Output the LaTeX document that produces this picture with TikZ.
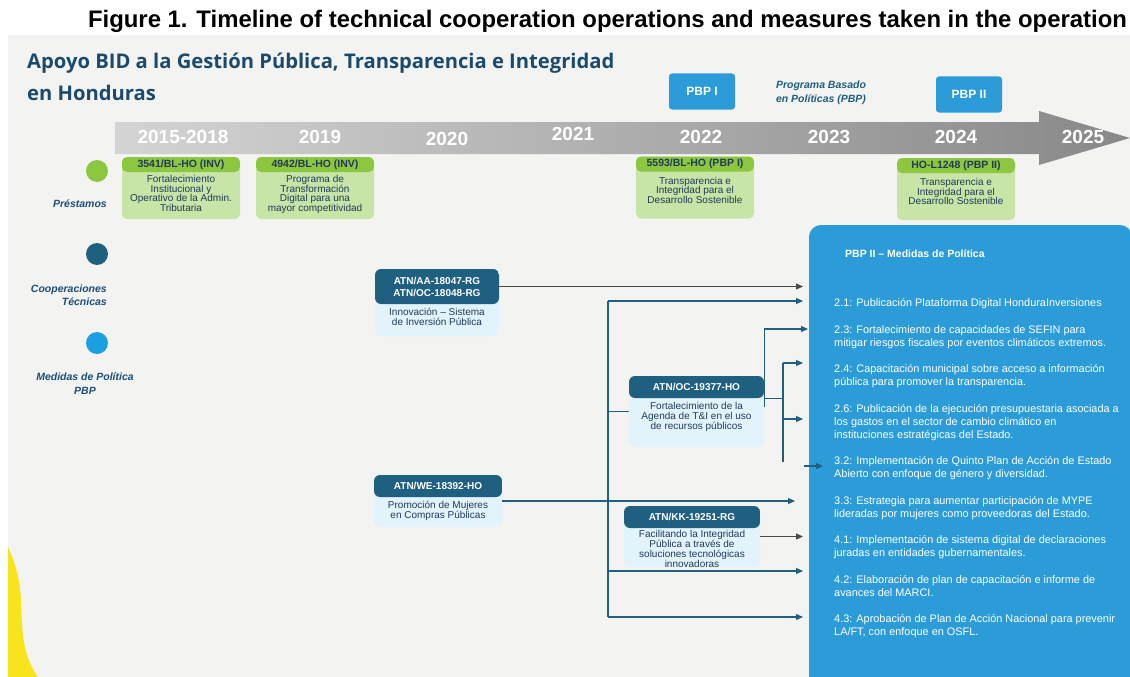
\documentclass[tikz,border=0pt]{standalone}
\usepackage{fontspec}
\setmainfont{Liberation Sans}
\newfontfamily\headfont{Open Sans}
\usetikzlibrary{positioning,arrows.meta}

\definecolor{paper}{HTML}{F3F3F2}
\definecolor{navy}{HTML}{1B4A6C}
\definecolor{inknavy}{HTML}{1F3A5A}
\definecolor{labelnavy}{HTML}{1D4F78}
\definecolor{loanhead}{HTML}{8DC63F}
\definecolor{loanbody}{HTML}{C8E4A6}
\definecolor{tchead}{HTML}{1F5F7F}
\definecolor{tcbody}{HTML}{E3F3FB}
\definecolor{pbpblue}{HTML}{2B9CD8}
\definecolor{dotblue}{HTML}{1AA0E2}
\definecolor{barlight}{HTML}{D4D4D4}
\definecolor{bardark}{HTML}{888888}
\definecolor{linegray}{HTML}{4A4A4A}
\definecolor{blobyellow}{HTML}{F7E41C}

\begin{document}
\begin{tikzpicture}[x=1pt, y=-1pt,
    year/.style={text=white, font=\bfseries\fontsize{19}{19}\selectfont},
    dot/.style={circle, minimum size=22pt, inner sep=0pt},
    legend/.style={text=labelnavy, font=\bfseries\itshape\fontsize{10.5}{13.5}\selectfont, inner sep=0pt},
    loanbox/.style={fill=loanbody, rounded corners=5pt, minimum width=118pt, minimum height=62pt, inner sep=0pt,
        path picture={\fill[loanhead] (path picture bounding box.north west) rectangle ([yshift=-15pt]path picture bounding box.north east);}},
    loanhd/.style={anchor=north, minimum height=15pt, inner sep=0pt, text=inknavy, font=\bfseries\fontsize{10.5}{11}\selectfont},
    loantx/.style={align=center, inner sep=0pt, text=inknavy, font=\fontsize{10}{9.6}\selectfont},
    tcbox/.style={fill=tcbody, rounded corners=6pt, inner sep=0pt,
        path picture={\fill[tchead] (path picture bounding box.north west) rectangle ([yshift=-#1]path picture bounding box.north east);}},
    tcbox/.default=22pt,
    tchd/.style={anchor=north, inner sep=0pt, align=center, text=white, font=\bfseries\fontsize{10}{12}\selectfont},
    tctx/.style={align=center, inner sep=0pt, text=inknavy, font=\fontsize{10}{10}\selectfont},
    pbpbox/.style={fill=pbpblue, rounded corners=3pt, minimum width=66pt, minimum height=36pt, text=white, font=\bfseries\fontsize{12}{12}\selectfont},
    item/.style={anchor=north west, inner sep=0pt, align=left, text=white, font=\fontsize{10.9}{13}\selectfont},
    tcline/.style={draw=tchead, line width=1.1pt},
    tcarrow/.style={tcline, -{Triangle[length=7pt,width=6pt]}},
    grayarrow/.style={draw=linegray, line width=1.1pt, -{Triangle[length=7pt,width=6pt]}}
]
    \useasboundingbox (0,0) rectangle (1130,677);
    \fill[white] (0,0) rectangle (1130,677);
    \fill[paper] (8,35) rectangle (1130,677);
    % yellow corner blob
    \fill[blobyellow] (8,547) .. controls (16,565) and (20,580) .. (21,600)
        .. controls (22,630) and (22,655) .. (38,677) -- (8,677) -- cycle;

    % =====================
    % Titles
    % =====================
    \node[font=\bfseries\fontsize{23.9}{24}\selectfont] (fig) at (607.5,21)
        {Figure 1. Timeline of technical cooperation operations and measures taken in the operation};
    \node[anchor=base west, inner sep=0pt, align=left, text=navy, font=\headfont\bfseries\fontsize{20.2}{32}\selectfont] (title) at (27,100)
        {Apoyo BID a la Gestión Pública, Transparencia e Integridad\\en Honduras};

    % =====================
    % Timeline arrow
    % =====================
    \shade[left color=barlight, right color=bardark]
        (115,122) -- (1039,122) -- (1039,111) -- (1130,138) -- (1039,165) -- (1039,154) -- (115,154) -- cycle;
    \foreach \x/\y/\t [count=\i] in {183/137/2015-2018, 320/137/2019, 447/139/2020, 573/134/2021,
                                    701/137/2022, 829/137/2023, 956/137/2024, 1083/137/2025} {
        \node[year] (yr\i) at (\x,\y) {\t};
    }
    \node[pbpbox] (pbp1) at (702,91.5) {PBP I};
    \node[pbpbox] (pbp2) at (969,94.5) {PBP II};
    \node[align=center, text=tchead, font=\bfseries\itshape\fontsize{10.5}{13.5}\selectfont] (pbpnote) at (821,93)
        {Programa Basado\\en Políticas (PBP)};

    % =====================
    % Legend
    % =====================
    \node[dot, fill=loanhead] (dotl) at (97,171) {};
    \node[dot, fill=tchead] (dott) at (97,254) {};
    \node[dot, fill=dotblue] (dotm) at (97,343) {};
    \node[legend, anchor=east] (labl) at (107,204) {Préstamos};
    \node[legend, anchor=east, align=right] (labt) at (107,295) {Cooperaciones\\Técnicas};
    \node[legend, align=center] (labm) at (85,383.5) {Medidas de Política\\PBP};

    % =====================
    % Loans
    % =====================
    \node[loanbox] (l1) at (181,188) {};
    \node[loanhd] (l1h) at (l1.north) {3541/BL-HO (INV)};
    \node[loantx, below=3pt of l1h] (l1t) {Fortalecimiento\\Institucional y\\Operativo de la Admin.\\Tributaria};

    \node[loanbox] (l2) at (315,188) {};
    \node[loanhd] (l2h) at (l2.north) {4942/BL-HO (INV)};
    \node[loantx, below=3pt of l2h] (l2t) {Programa de\\Transformación\\Digital para una\\mayor competitividad};

    \node[loanbox] (l3) at (695,187.5) {};
    \node[loanhd] (l3h) at (l3.north) {5593/BL-HO (PBP I)};
    \node[loantx, below=5pt of l3h] (l3t) {Transparencia e\\Integridad para el\\Desarrollo Sostenible};

    \node[loanbox] (l4) at (956,189) {};
    \node[loanhd] (l4h) at (l4.north) {HO-L1248 (PBP II)};
    \node[loantx, below=5pt of l4h] (l4t) {Transparencia e\\Integridad para el\\Desarrollo Sostenible};

    % =====================
    % Technical cooperations
    % =====================
    \node[tcbox=35pt, minimum width=124pt, minimum height=67pt] (tc1) at (437,302.5) {};
    \node[tchd, minimum width=124pt, minimum height=35pt] (tc1h) at (tc1.north) {ATN/AA-18047-RG\\ATN/OC-18048-RG};
    \node[tctx, below=4pt of tc1h] (tc1t) {Innovación – Sistema\\de Inversión Pública};

    \node[tcbox, minimum width=135pt, minimum height=71pt] (tc2) at (696.5,411.5) {};
    \node[tchd, minimum width=135pt, minimum height=22pt] (tc2h) at (tc2.north) {ATN/OC-19377-HO};
    \node[tctx, below=4pt of tc2h] (tc2t) {Fortalecimiento de la\\Agenda de T\&I en el uso\\de recursos públicos};

    \node[tcbox, minimum width=128pt, minimum height=52pt] (tc3) at (438,501) {};
    \node[tchd, minimum width=128pt, minimum height=22pt] (tc3h) at (tc3.north) {ATN/WE-18392-HO};
    \node[tctx, below=4pt of tc3h] (tc3t) {Promoción de Mujeres\\en Compras Públicas};

    \node[tcbox, minimum width=136pt, minimum height=61pt] (tc4) at (692,536.5) {};
    \node[tchd, minimum width=136pt, minimum height=22pt] (tc4h) at (tc4.north) {ATN/KK-19251-RG};
    \node[tctx, below=2pt of tc4h] (tc4t) {Facilitando la Integridad\\Pública a través de\\soluciones tecnológicas\\innovadoras};

    % =====================
    % PBP II measures
    % =====================
    \node[fill=pbpblue, rounded corners=12pt, minimum width=323pt, minimum height=465pt, inner sep=0pt] (pbp) at (970.5,457.5) {};
    \node[anchor=west, inner sep=0pt, text=white, font=\bfseries\fontsize{10.5}{13}\selectfont] (pbpt) at (845,254) {PBP II – Medidas de Política};
    \node[item] (m21) at (834,298) {2.1: Publicación Plataforma Digital HonduraInversiones};
    \node[item] (m23) at (834,325) {2.3: Fortalecimiento de capacidades de SEFIN para\\mitigar riesgos fiscales por eventos climáticos extremos.};
    \node[item] (m24) at (834,364) {2.4: Capacitación municipal sobre acceso a información\\pública para promover la transparencia.};
    \node[item] (m26) at (834,404) {2.6: Publicación de la ejecución presupuestaria asociada a\\los gastos en el sector de cambio climático en\\instituciones estratégicas del Estado.};
    \node[item] (m32) at (834,456) {3.2: Implementación de Quinto Plan de Acción de Estado\\Abierto con enfoque de género y diversidad.};
    \node[item] (m33) at (834,496) {3.3: Estrategia para aumentar participación de MYPE\\lideradas por mujeres como proveedoras del Estado.};
    \node[item] (m41) at (834,535) {4.1: Implementación de sistema digital de declaraciones\\juradas en entidades gubernamentales.};
    \node[item] (m42) at (834,575) {4.2: Elaboración de plan de capacitación e informe de\\avances del MARCI.};
    \node[item] (m43) at (834,614) {4.3: Aprobación de Plan de Acción Nacional para prevenir\\LA/FT, con enfoque en OSFL.};

    % =====================
    % Connectors
    % =====================
    \coordinate (tipx) at (803,0);
    \coordinate (tipw) at (795,0);
    \coordinate (tk) at (608,301);
    \coordinate (tkm) at (608,571);
    \coordinate (tkb) at (608,617);
    \coordinate (br) at (783,363);
    \coordinate (br2) at (783,419);
    \coordinate (brb) at (783,462);
    \coordinate (e23) at (808,329);
    \coordinate (s32) at (804,466);
    \coordinate (s32e) at (823,466);

    \draw[grayarrow] (tc1h.east) -- (tc1h.east -| tipx);
    \draw[tcline] (tk) -- (tkb);
    \draw[tcarrow] (tk) -- (tk -| tipx);
    \draw[tcline] (tc2.west) -- (tc2.west -| tk);
    \draw[tcarrow] (tkm) -- (tkm -| tipx);
    \draw[tcarrow] (tkb) -- (tkb -| tipx);
    \draw[tcarrow] ([yshift=4.5pt]tc2.east) |- (e23);
    \draw[tcline] (tc2h.south east) -- (tc2h.south east -| br);
    \draw[tcline] (br) -- (brb);
    \draw[tcarrow] (br) -- (br -| tipx);
    \draw[tcarrow] (br2) -- (br2 -| tipx);
    \draw[tcarrow] (s32) -- (s32e);
    \draw[tcarrow] (tc3.east) -- (tc3.east -| tipw);
    \draw[grayarrow] (tc4.east) -- (tc4.east -| tipx);
\end{tikzpicture}
\end{document}
